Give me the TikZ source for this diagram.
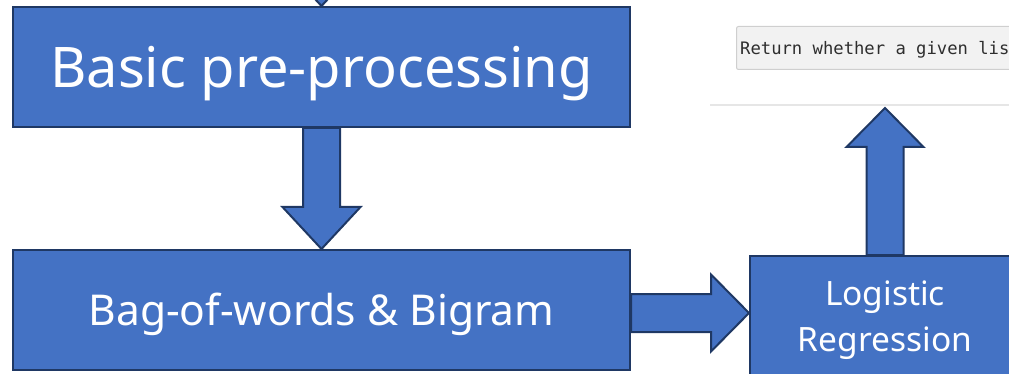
\documentclass[tikz,border=0pt]{standalone}
\usepackage{fontspec}
\usepackage{tikz}
\usetikzlibrary{calc}
\usetikzlibrary{backgrounds}
\newfontfamily\boxfont{Noto Sans}
\newfontfamily\codefont{DejaVu Sans Mono}

\definecolor{boxblue}{HTML}{4472C4}
\definecolor{boxline}{HTML}{1F3864}
\definecolor{codebg}{HTML}{F2F2F2}
\definecolor{codeline}{HTML}{CFCFCF}
\definecolor{codetext}{HTML}{2E2E2E}
\definecolor{rulegray}{HTML}{E6E6E6}

\tikzset{
  box/.style={draw=boxline, fill=boxblue, line width=2pt, text=white, inner sep=0pt, align=center},
  blockarrow/.style={draw=boxline, fill=boxblue, line width=2pt, line join=miter},
}

\begin{document}
\begin{tikzpicture}[x=1pt, y=-1pt]

\useasboundingbox (0,0) rectangle (1009,374);
\clip (0,0) rectangle (1009,374);

% screenshot strip, top right
\draw[rulegray, line width=2pt] (710,105)--(1012,105);
\node[draw=codeline, fill=codebg, line width=1pt, rounded corners=2pt, anchor=north west,
      minimum width=290pt, minimum height=43pt, inner sep=0pt] (code) at (736,26) {};
\node[anchor=base west, inner sep=0pt, text=codetext, font=\codefont\fontsize{17.2}{20}\selectfont]
  (codetxt) at (740,55) {Return whether a given lis};

% the three boxes
\node[box, minimum width=617pt, minimum height=120pt, text height=42pt, text depth=0pt,
      font=\boxfont\fontsize{56}{66}\selectfont]
  (prep) at (321.5,67) {Basic pre-processing};
\node[box, minimum width=617pt, minimum height=120pt, text height=30pt, text depth=0pt,
      font=\boxfont\fontsize{42.5}{50}\selectfont]
  (bow) at (321.5,310) {Bag-of-words \& Bigram};
\node[box, minimum width=270pt, minimum height=120pt, text depth=0pt,
      font=\boxfont\fontsize{33.5}{46}\selectfont]
  (logreg) at (885,316) {Logistic\\Regression};

\coordinate (topTail) at (321.5,-90);
\coordinate (rTail) at ($(bow.east)+(0,3)$);
\coordinate (rTip) at (rTail -| logreg.west);
\coordinate (upTip) at (885,108);

\begin{pgfonlayer}{background}
% arrow coming in from above
\draw[blockarrow] ($(topTail)+(-18.5,0)$) -- ($(prep.north)+(-18.5,-42)$) -- ($(prep.north)+(-39,-42)$)
  -- (prep.north) -- ($(prep.north)+(39,-42)$) -- ($(prep.north)+(18.5,-42)$) -- ($(topTail)+(18.5,0)$) -- cycle;
% pre-processing -> bag-of-words
\draw[blockarrow] ($(prep.south)+(-18.5,0)$) -- ($(bow.north)+(-18.5,-42)$) -- ($(bow.north)+(-39,-42)$)
  -- (bow.north) -- ($(bow.north)+(39,-42)$) -- ($(bow.north)+(18.5,-42)$) -- ($(prep.south)+(18.5,0)$) -- cycle;
% bag-of-words -> logistic regression
\draw[blockarrow] ($(rTail)+(0,-19)$) -- ($(rTip)+(-38,-19)$) -- ($(rTip)+(-38,-38.5)$)
  -- (rTip) -- ($(rTip)+(-38,38.5)$) -- ($(rTip)+(-38,19)$) -- ($(rTail)+(0,19)$) -- cycle;
% logistic regression -> output
\draw[blockarrow] ($(logreg.north)+(-18.5,0)$) -- ($(upTip)+(-18.5,39)$) -- ($(upTip)+(-38.5,39)$)
  -- (upTip) -- ($(upTip)+(38.5,39)$) -- ($(upTip)+(18.5,39)$) -- ($(logreg.north)+(18.5,0)$) -- cycle;
\end{pgfonlayer}

\end{tikzpicture}
\end{document}
